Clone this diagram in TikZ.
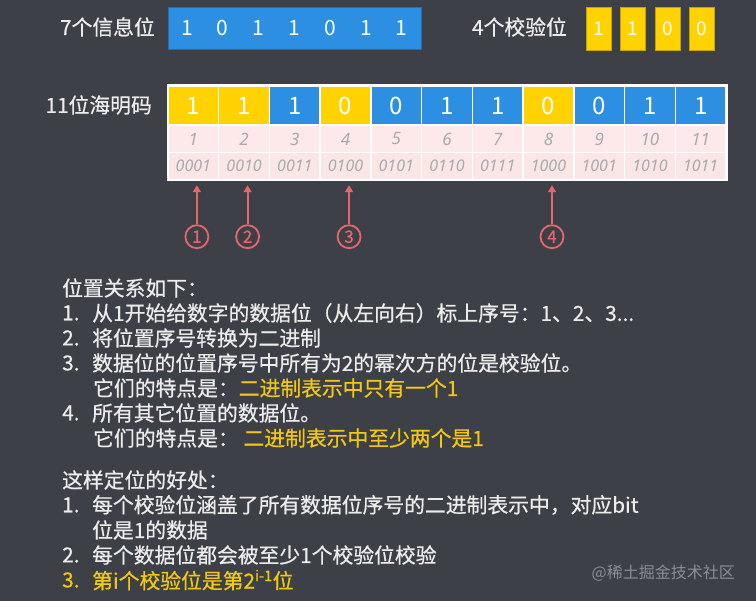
\documentclass[tikz,border=0pt]{standalone}
\usepackage{fontspec}
\setmainfont{Noto Sans CJK SC}
\newfontfamily\medfont{Noto Sans CJK SC}[FakeBold=0.6]
\newfontfamily\numfont{Noto Sans}
\usetikzlibrary{arrows.meta}
\definecolor{bg}{RGB}{61,64,71}
\definecolor{hb}{RGB}{44,143,225}
\definecolor{hbd}{RGB}{30,110,185}
\definecolor{hy}{RGB}{255,210,0}
\definecolor{hyd}{RGB}{200,160,0}
\definecolor{pk}{RGB}{253,233,233}
\definecolor{pk2}{RGB}{251,230,230}
\definecolor{gt}{RGB}{170,170,170}
\definecolor{rd}{RGB}{229,103,108}
\definecolor{txt}{RGB}{236,236,236}
\definecolor{ty}{RGB}{243,200,20}
\definecolor{wm}{RGB}{140,142,147}
\tikzset{
  lbl/.style={inner sep=0, text=txt, font=\medfont\fontsize{20.8}{24}\selectfont},
  ln/.style={lbl, anchor=west},
  digit/.style={inner sep=0, text=white, font=\fontsize{21}{24}\selectfont},
  ybox/.style={fill=hy, draw=hyd, line width=0.8pt, minimum width=25, minimum height=43, inner sep=0, text=white, font=\fontsize{19}{22}\selectfont},
  cell/.style={draw=white, line width=1.5pt, minimum width=50.73, inner sep=0},
  topcell/.style={cell, minimum height=39, text=white, font=\fontsize{24}{28}\selectfont},
  idxcell/.style={cell, fill=pk, minimum height=27, text=gt, font=\numfont\itshape\fontsize{17}{20}\selectfont},
  bincell/.style={cell, fill=pk2, minimum height=27, text=gt, font=\numfont\itshape\fontsize{16}{18}\selectfont},
  circ/.style={circle, draw=rd, line width=1.8pt, minimum size=23, inner sep=0, text=rd, font=\medfont\fontsize{17}{18}\selectfont},
  arr/.style={draw=rd, line width=2pt, -{Triangle[width=8pt,length=7pt]}, shorten >=5pt}
}
\begin{document}
\begin{tikzpicture}[x=1pt,y=-1pt]
\fill[bg] (0,0) rectangle (756,601);
\useasboundingbox (0,0) rectangle (756,601);

% top row
\node[lbl, anchor=east] (info) at (155,27) {7个信息位};
\node[fill=hb, draw=hbd, line width=0.8pt, minimum width=253, minimum height=42, inner sep=0] (infobox) at (294.5,28) {};
\foreach \d [count=\i] in {1,0,1,1,0,1,1}
  \node[digit] (d\i) at ({187+35.8*(\i-1)},28) {\d};

\node[lbl, anchor=east] (chk) at (567,27) {4个校验位};
\foreach \d/\x [count=\i] in {1/599,1/633,0/667.5,0/702}
  \node[ybox] (y\i) at (\x,28.5) {\d};

% table
\node[lbl, anchor=east] (ham) at (152,105) {11位海明码};
\foreach \v/\c [count=\i] in {1/hy,1/hy,1/hb,0/hy,0/hb,1/hb,1/hb,0/hy,0/hb,1/hb,1/hb}
  \node[topcell, fill=\c] (t\i) at ({168+50.73*(\i-0.5)},105.5) {\v};
\foreach \i in {1,...,11}
  \node[idxcell] (n\i) at ({168+50.73*(\i-0.5)},139) {\i};
\foreach \b [count=\i] in {0001,0010,0011,0100,0101,0110,0111,1000,1001,1010,1011}
  \node[bincell] (b\i) at ({168+50.73*(\i-0.5)},166) {\b};
\draw[white, line width=1.5pt] (t1.north west) rectangle (b11.south east);

% arrows with circled numbers
\foreach \k/\i in {1/1,2/2,3/4,4/8}{
  \node[circ] (k\k) at ({168+50.73*(\i-0.5)+3.5},236.7) {\k};
  \draw[arr] (k\k) -- (k\k |- b\i.south);
}

% text block 1
\node[ln] (h1) at (62,288) {位置关系如下：};
\node[ln] (a1n) at (62,313) {1.};
\node[ln] (a1) at (92,313) {从1开始给数字的数据位（从左向右）标上序号：1、2、3...};
\node[ln] (a2n) at (62,338) {2.};
\node[ln] (a2) at (92,338) {将位置序号转换为二进制};
\node[ln] (a3n) at (62,363) {3.};
\node[ln] (a3) at (92,363) {数据位的位置序号中所有为2的幂次方的位是校验位。};
\node[ln] (a3b) at (93,388) {它们的特点是：\textcolor{ty}{二进制表示中只有一个1}};
\node[ln] (a4n) at (62,413) {4.};
\node[ln] (a4) at (92,413) {所有其它位置的数据位。};
\node[ln] (a4b) at (93,438) {它们的特点是：\ \textcolor{ty}{二进制表示中至少两个是1}};

% text block 2
\node[ln] (h2) at (62,480) {这样定位的好处：};
\node[ln] (b1n) at (62,505) {1.};
\node[ln] (bb1) at (92,505) {每个校验位涵盖了所有数据位序号的二进制表示中，对应bit};
\node[ln] (bb1b) at (92,530) {位是1的数据};
\node[ln] (b2n) at (62,555) {2.};
\node[ln] (bb2) at (92,555) {每个数据位都会被至少1个校验位校验};
\node[ln, text=ty] (b3n) at (62,580) {3.};
\node[ln, text=ty] (bb3) at (92,580) {第i个校验位是第2\textsuperscript{i-1}位};

% watermark
\node[inner sep=0, anchor=east, text=wm, font=\fontsize{16}{18}\selectfont] (wmk) at (735,573) {@稀土掘金技术社区};
\end{tikzpicture}
\end{document}
